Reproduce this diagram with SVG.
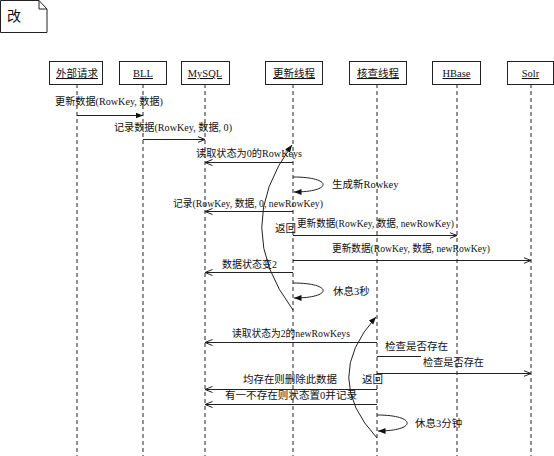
<svg xmlns="http://www.w3.org/2000/svg" width="554" height="456" viewBox="0 0 554 456">
<style>
text{font-family:"Liberation Serif","Noto Sans CJK SC",serif;font-size:10.5px;fill:#111}
.head rect{fill:#fff;stroke:#222;stroke-width:1}
.head text{text-anchor:middle;text-decoration:underline}
.life{stroke:#222;stroke-width:1;stroke-dasharray:4,3}
.msg{stroke:#222;stroke-width:1;fill:none}
.open{marker-end:url(#open)}
.fill{marker-end:url(#filled)}
</style>
<defs>
<marker id="open" viewBox="0 0 8 8" refX="7.5" refY="4" markerWidth="8" markerHeight="8" markerUnits="userSpaceOnUse" orient="auto"><path d="M0,1 L7.5,4 L0,7" fill="none" stroke="#222" stroke-width="1"/></marker>
<marker id="filled" viewBox="0 0 8 8" refX="7.5" refY="4" markerWidth="8" markerHeight="8" markerUnits="userSpaceOnUse" orient="auto"><path d="M0,1 L7.5,4 L0,7 Z" fill="#111"/></marker>
</defs>
<rect width="554" height="456" fill="#fff"/>
<g id="note">
<path d="M0.5,0.5 H39 L47,9 V32.5 H0.5 Z" fill="#fff" stroke="#222"/>
<path d="M39,0.5 V9 H47" fill="none" stroke="#222"/>
<text x="7" y="21" style="font-size:14px">改</text>
</g>
<g id="lifelines">
<line class="life" x1="77" y1="84" x2="77" y2="456"/>
<line class="life" x1="143" y1="84" x2="143" y2="456"/>
<line class="life" x1="205" y1="84" x2="205" y2="456"/>
<line class="life" x1="293" y1="84" x2="293" y2="456"/>
<line class="life" x1="377" y1="84" x2="377" y2="456"/>
<line class="life" x1="457" y1="84" x2="457" y2="456"/>
<line class="life" x1="531" y1="84" x2="531" y2="456"/>
</g>
<g id="n1" class="head"><rect x="49.5" y="61.5" width="53" height="23"/><text x="77" y="77">外部请求</text></g>
<g id="n2" class="head"><rect x="119.5" y="61.5" width="47" height="23"/><text x="143" y="77">BLL</text></g>
<g id="n3" class="head"><rect x="181.5" y="61.5" width="48" height="23"/><text x="205" y="77">MySQL</text></g>
<g id="n4" class="head"><rect x="265.5" y="61.5" width="57" height="23"/><text x="294" y="77">更新线程</text></g>
<g id="n5" class="head"><rect x="349.5" y="61.5" width="57" height="23"/><text x="378" y="77">核查线程</text></g>
<g id="n6" class="head"><rect x="432.5" y="61.5" width="48" height="23"/><text x="456.5" y="77">HBase</text></g>
<g id="n7" class="head"><rect x="507.5" y="61.5" width="46" height="23"/><text x="530.5" y="77">Solr</text></g>
<g id="connectors">
<line class="msg fill" x1="77" y1="115.5" x2="143" y2="115.5"/>
<line class="msg open" x1="143" y1="139.5" x2="205" y2="139.5"/>
<line class="msg open" x1="293" y1="162.5" x2="205" y2="162.5"/>
<path class="msg fill" d="M293,177 C333,177 333,192 294,192"/>
<line class="msg open" x1="293" y1="211.5" x2="205" y2="211.5"/>
<line class="msg open" x1="293" y1="235.5" x2="457" y2="235.5"/>
<line class="msg open" x1="293" y1="260.5" x2="531" y2="260.5"/>
<line class="msg open" x1="293" y1="272.5" x2="205" y2="272.5"/>
<path class="msg fill" d="M293,283 C333,283 333,298 294,298"/>
<path class="msg fill" d="M293,310 Q231,228 292,145"/>
<line class="msg open" x1="377" y1="342.5" x2="205" y2="342.5"/>
<line class="msg" x1="377" y1="356.5" x2="421" y2="356.5"/>
<line class="msg open" x1="377" y1="373.5" x2="531" y2="373.5"/>
<line class="msg open" x1="377" y1="389.5" x2="205" y2="389.5"/>
<line class="msg open" x1="377" y1="404.5" x2="205" y2="404.5"/>
<path class="msg fill" d="M377,415 C417,415 417,431 378,431"/>
<path class="msg fill" d="M377,438 Q321,378 376,317"/>
</g>
<g id="labels">
<text x="55" y="105" textLength="108" lengthAdjust="spacingAndGlyphs">更新数据(RowKey, 数据)</text>
<text x="114" y="131" textLength="118" lengthAdjust="spacingAndGlyphs">记录数据(RowKey, 数据, 0)</text>
<text x="196" y="157" textLength="106" lengthAdjust="spacingAndGlyphs">读取状态为0的RowKeys</text>
<text x="332" y="188">生成新Rowkey</text>
<text x="173" y="207" textLength="150" lengthAdjust="spacingAndGlyphs">记录(RowKey, 数据, 0, newRowKey)</text>
<text x="275" y="232">返回</text>
<text x="297" y="227" textLength="157" lengthAdjust="spacingAndGlyphs">更新数据(RowKey, 数据, newRowKey)</text>
<text x="332" y="252" textLength="158" lengthAdjust="spacingAndGlyphs">更新数据(RowKey, 数据, newRowKey)</text>
<text x="222" y="268" textLength="55" lengthAdjust="spacingAndGlyphs">数据状态变2</text>
<text x="333" y="295">休息3秒</text>
<text x="232" y="337" textLength="118" lengthAdjust="spacingAndGlyphs">读取状态为2的newRowKeys</text>
<text x="385" y="350" textLength="63" lengthAdjust="spacingAndGlyphs">检查是否存在</text>
<text x="423" y="366" textLength="61" lengthAdjust="spacingAndGlyphs">检查是否存在</text>
<text x="362" y="383">返回</text>
<text x="243" y="383" textLength="94" lengthAdjust="spacingAndGlyphs">均存在则删除此数据</text>
<text x="225" y="399" textLength="132" lengthAdjust="spacingAndGlyphs">有一不存在则状态置0并记录</text>
<text x="415" y="427">休息3分钟</text>
</g>
</svg>
